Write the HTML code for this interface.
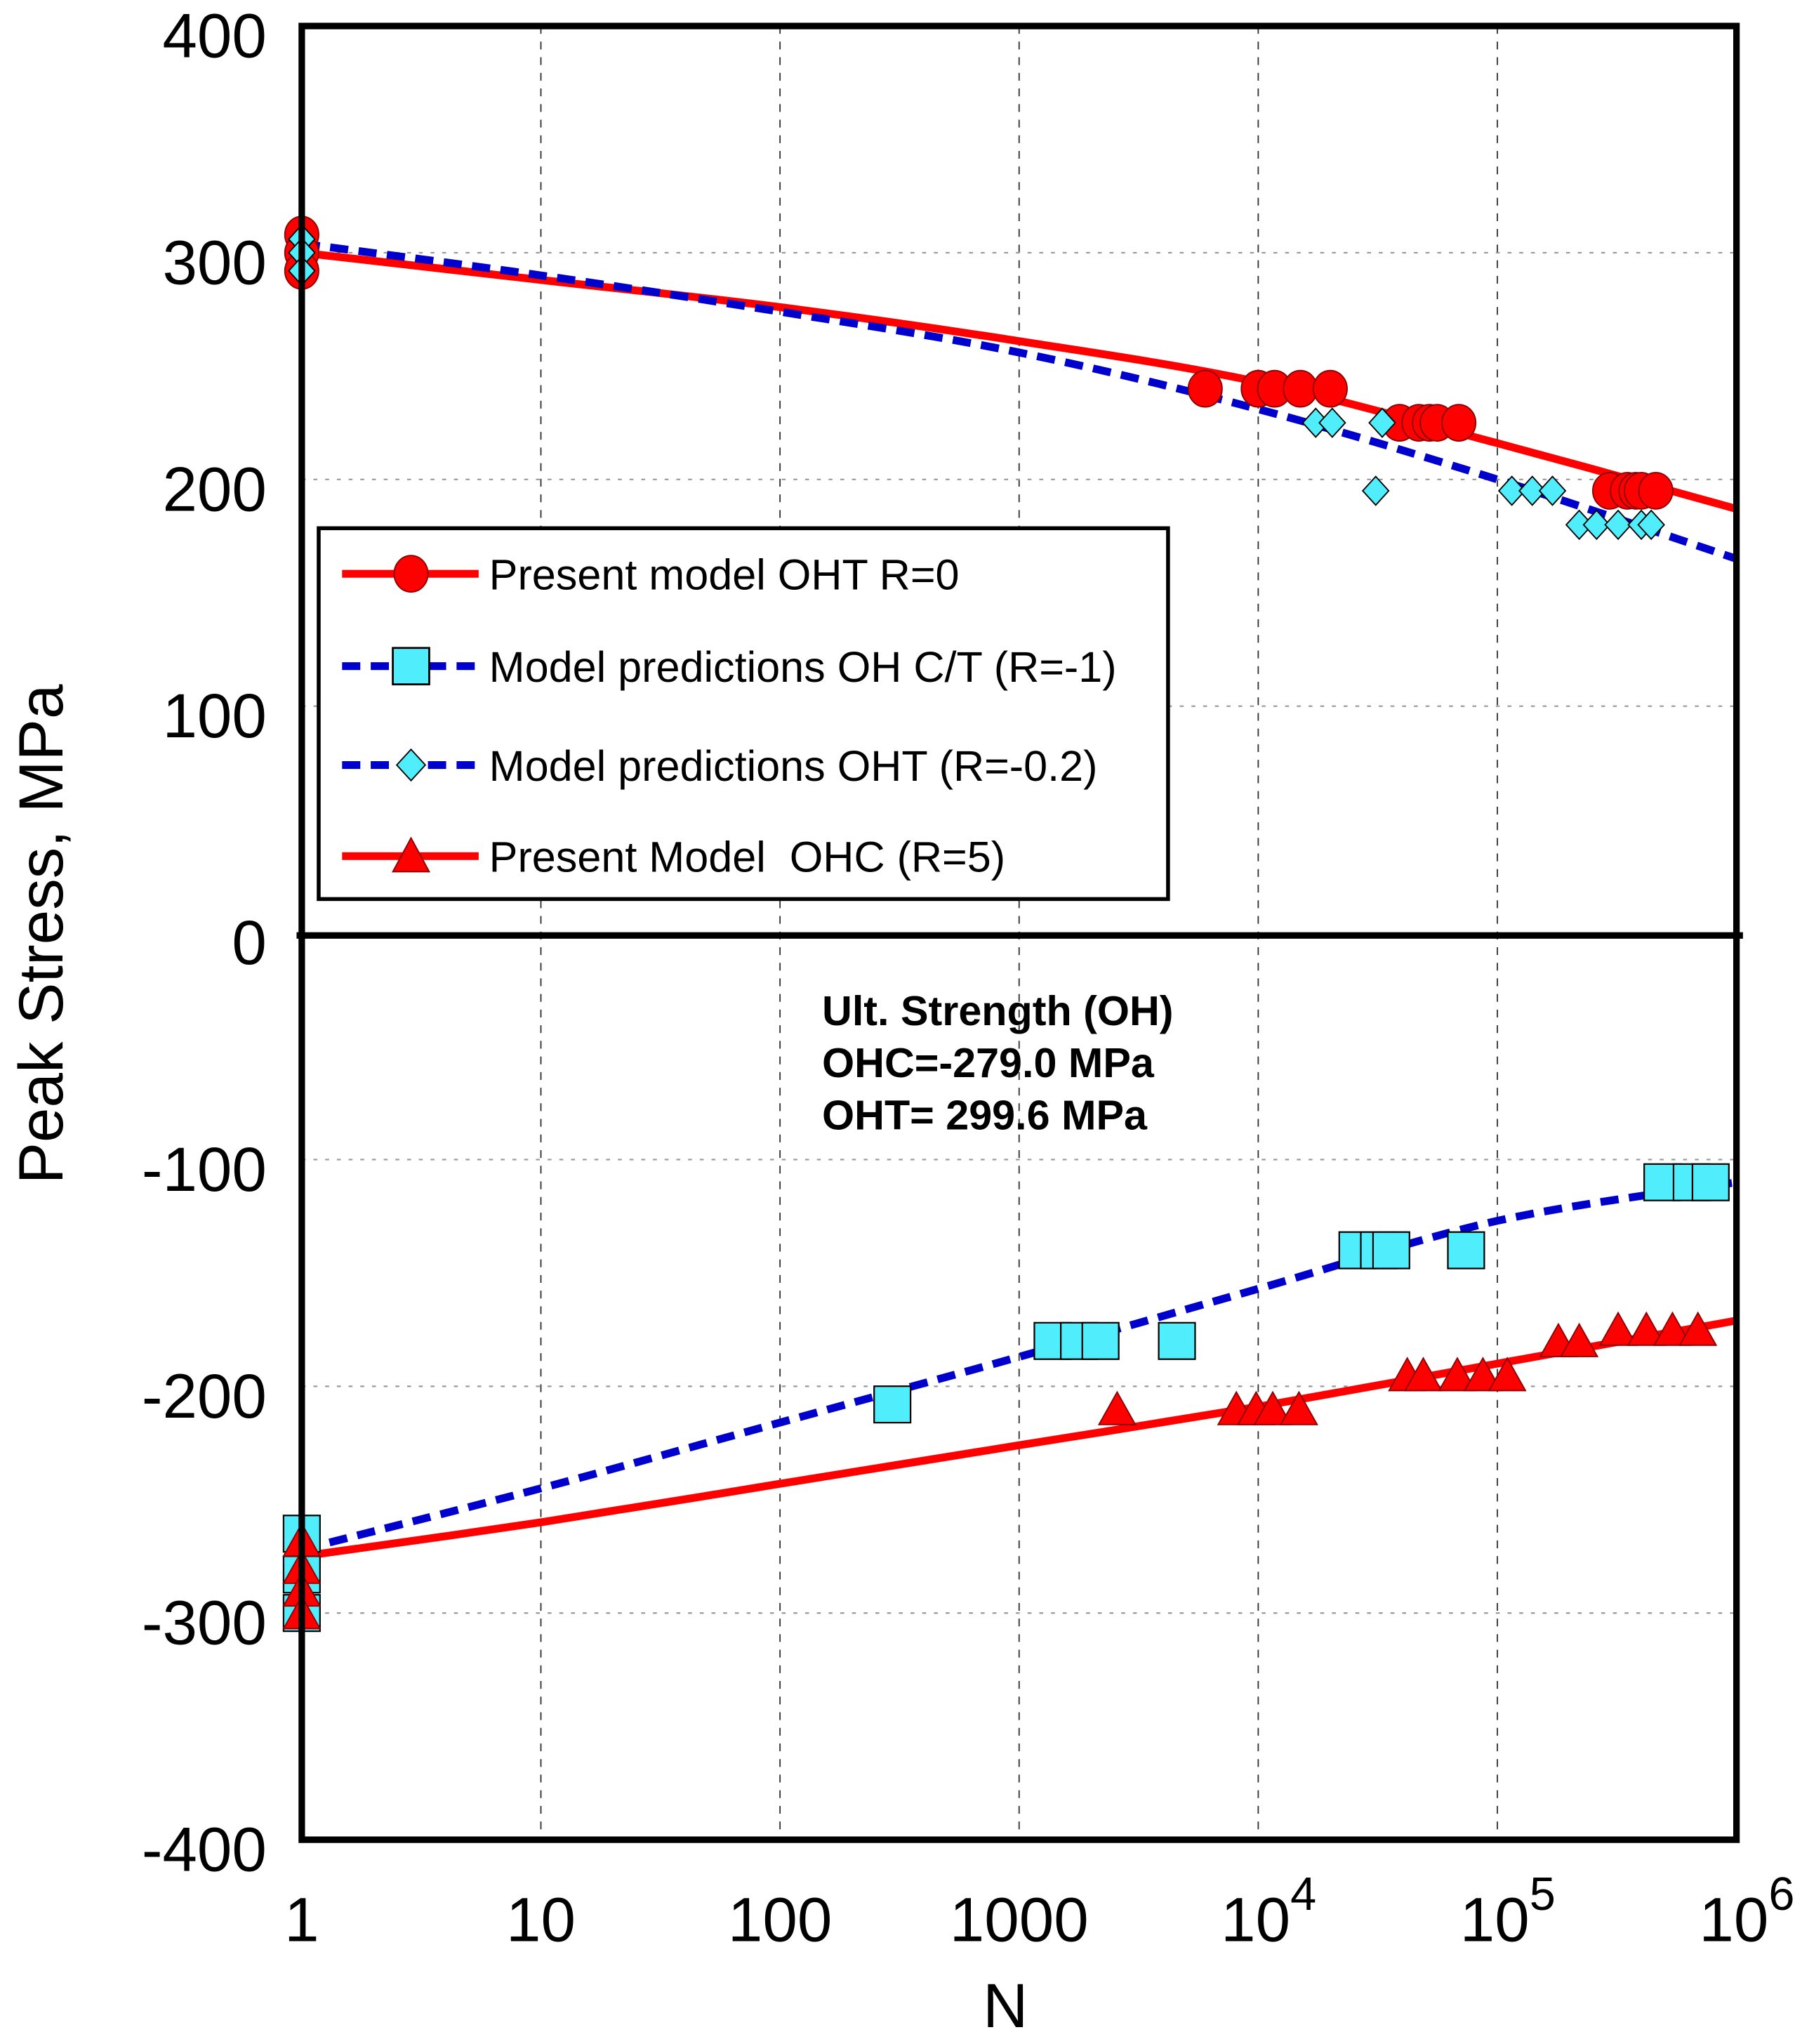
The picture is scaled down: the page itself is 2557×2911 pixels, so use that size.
<!DOCTYPE html>
<html><head><meta charset="utf-8"><style>
html,body{margin:0;padding:0;background:#fff;}
svg{display:block;}
text{font-family:"Liberation Sans",sans-serif;}
</style></head><body>
<svg id="chart" width="2557" height="2911" viewBox="0 0 1380 1571" preserveAspectRatio="none" xmlns="http://www.w3.org/2000/svg">
<g id="grid"></g>
<g id="lines"></g>
<g id="marks"></g>
<rect x="232" y="20" width="1103" height="1394" fill="none" stroke="#000" stroke-width="5"/>
<g id="axes"></g>
<g>
<rect x="245" y="406" width="653" height="285" fill="#fff" stroke="#000" stroke-width="3"/>
<g>
<line x1="263" y1="441" x2="368" y2="441" stroke="#ff0000" stroke-width="6"/>
<ellipse cx="316" cy="441" rx="13" ry="14" fill="#ff0000" stroke="#800" stroke-width="1"/>
<text x="376" y="453" font-size="33">Present model OHT R=0</text></g>
<g>
<line x1="263" y1="512" x2="368" y2="512" stroke="#0000cc" stroke-width="6" stroke-dasharray="14,8"/>
<rect x="302" y="498" width="28" height="28" fill="#50eefc" stroke="#000" stroke-width="1.5"/>
<text x="376" y="524" font-size="33">Model predictions OH C/T (R=-1)</text></g>
<g>
<line x1="263" y1="588" x2="368" y2="588" stroke="#0000cc" stroke-width="6" stroke-dasharray="14,8"/>
<polygon points="316,576 327,588 316,600 305,588" fill="#50eefc" stroke="#000" stroke-width="1"/>
<text x="376" y="600" font-size="33">Model predictions OHT (R=-0.2)</text></g>
<g>
<line x1="263" y1="658" x2="368" y2="658" stroke="#ff0000" stroke-width="6"/>
<polygon points="316,644 330,670 302,670" fill="#ff0000" stroke="#800" stroke-width="1"/>
<text x="376" y="670" font-size="33" xml:space="preserve">Present Model  OHC (R=5)</text></g>
</g>
<g font-weight="bold" font-size="32">
<text x="632" y="788">Ult. Strength (OH)</text>
<text x="632" y="828">OHC=-279.0 MPa</text>
<text x="632" y="868">OHT= 299.6 MPa</text>
</g>
<text x="773" y="1558" font-size="48" text-anchor="middle">N</text>
<text x="0" y="0" font-size="48" text-anchor="middle" transform="translate(48,718) rotate(-90)">Peak Stress, MPa</text>
</svg>
<script>
const xTicks = [0,1,2,3,4,5,6];
const xTickLabels = ["1","10","100","1000","10^4","10^5","10^6"];
const yTicks = [400,300,200,100,0,-100,-200,-300,-400];
const lineN = [1,10,100,1000,1e4,1e5,1e6];
const ohtR0Line = [300,288,276,261,243,216,187];
const ohtR02Line = [304,290,274,256,231,200,165];
const ohctLine = [-272,-245,-216,-187,-157,-127,-110];
const ohcLine = [-275,-260,-243,-226,-209,-190,-171];
const circN = [1,1,1,6000,1e4,1.17e4,1.5e4,2e4,3.9e4,4.7e4,5.2e4,5.6e4,6.9e4,2.95e5,3.5e5,3.8e5,4e5,4.6e5];
const circS = [308,300,292,240,240,240,240,240,225,225,225,225,225,195,195,195,195,195];
const diaN = [1,1,1,1.74e4,2.04e4,3.3e4,3.1e4,1.15e5,1.4e5,1.7e5,2.2e5,2.6e5,3.2e5,4e5,4.4e5];
const diaS = [306,300,292,225,225,225,195,195,195,195,180,180,180,180,180];
const sqN = [1,1,1,295,1380,1780,2190,4570,2.6e4,3.2e4,3.6e4,7.4e4,4.9e5,6.5e5,7.8e5];
const sqS = [-265,-283,-300,-208,-180,-180,-180,-180,-140,-140,-140,-140,-110,-110,-110];
const triN = [1,1,1,1,2570,8100,9800,1.15e4,1.48e4,4.2e4,4.9e4,6.8e4,8.7e4,1.1e5,1.8e5,2.2e5,3.2e5,4.2e5,5.4e5,6.9e5];
const triS = [-268,-280,-290,-300,-210,-210,-210,-210,-210,-195,-195,-195,-195,-195,-180,-180,-175,-175,-175,-175];

const NS='http://www.w3.org/2000/svg';
const X0=232,X1=1335,Y0=20,Y1=1414;
function xs(n){return X0+(Math.log10(n)/6)*(X1-X0);}
function xl(l){return X0+(l/6)*(X1-X0);}
function ys(v){return Y0+(400-v)/800*(Y1-Y0);}
function mk(tag,attrs,parent){const e=document.createElementNS(NS,tag);for(const k in attrs)e.setAttribute(k,attrs[k]);parent.appendChild(e);return e;}
const grid=document.getElementById('grid'),axes=document.getElementById('axes'),lines=document.getElementById('lines'),marks=document.getElementById('marks');
xTicks.forEach((t,i)=>{
  if(i>0&&i<6){const g=mk('line',{x1:xl(t),x2:xl(t),y1:Y0,y2:Y1,stroke:'#333','stroke-width':1,'stroke-dasharray':'6,6'},grid);
  
  }
  const lab=xTickLabels[i];
  const tx=mk('text',{x:xl(t),y:1492,'font-size':48,'text-anchor':'middle'},axes);
  
  
  if(lab.indexOf('^')>0){const p=lab.split('^');tx.textContent=p[0];const s=mk('tspan',{dy:-24,'font-size':36},tx);s.textContent=p[1];tx.setAttribute('x',xl(t)+8);}
  else tx.textContent=lab;
});
yTicks.forEach(v=>{
  if(v<400&&v>-400&&v!==0){const g=mk('line',{x1:X0,x2:X1,y1:ys(v),y2:ys(v),stroke:'#999','stroke-width':1.2,'stroke-dasharray':'3,6'},grid);
  
  }
  const t=mk('text',{x:205,y:ys(v)+24,'font-size':48,'text-anchor':'end'},axes);
  
  
  t.textContent=String(v);
});
const zl=mk('line',{x1:228,x2:1340,y1:ys(0)+2,y2:ys(0)+2,stroke:'#000','stroke-width':5},axes);


function drawLine(vals,color,dash,name){
  const P=lineN.map((n,i)=>[xs(n),ys(vals[i])]);
  let d='M'+P[0][0]+','+P[0][1];
  for(let i=0;i<P.length-1;i++){
    const p0=P[i-1]||P[i],p1=P[i],p2=P[i+1],p3=P[i+2]||P[i+1];
    const c1=[p1[0]+(p2[0]-p0[0])/6,p1[1]+(p2[1]-p0[1])/6];
    const c2=[p2[0]-(p3[0]-p1[0])/6,p2[1]-(p3[1]-p1[1])/6];
    d+=` C${c1[0]},${c1[1]} ${c2[0]},${c2[1]} ${p2[0]},${p2[1]}`;
  }
  const p=mk('path',{d:d,fill:'none',stroke:color,'stroke-width':6},lines);
  if(dash)p.setAttribute('stroke-dasharray','14,8');
  
  
}
drawLine(ohtR0Line,'#ff0000',false,'line-oht-r0');
drawLine(ohcLine,'#ff0000',false,'line-ohc-r5');
drawLine(ohtR02Line,'#0000cc',true,'line-oht-r-0.2');
drawLine(ohctLine,'#0000cc',true,'line-ohct-r-1');
circN.forEach((n,i)=>{const e=mk('ellipse',{cx:xs(n),cy:ys(circS[i]),rx:13,ry:14,fill:'#ff0000',stroke:'#800','stroke-width':1},marks);
  
  });
diaN.forEach((n,i)=>{const x=xs(n),y=ys(diaS[i]);const e=mk('polygon',{points:`${x},${y-11} ${x+10},${y} ${x},${y+11} ${x-10},${y}`,fill:'#50eefc',stroke:'#000','stroke-width':1},marks);
  
  });
sqN.forEach((n,i)=>{const e=mk('rect',{x:xs(n)-14,y:ys(sqS[i])-14,width:28,height:28,fill:'#50eefc',stroke:'#000','stroke-width':1.2},marks);
  
  });
triN.forEach((n,i)=>{const x=xs(n),y=ys(triS[i]);const e=mk('polygon',{points:`${x},${y-13} ${x+14},${y+12} ${x-14},${y+12}`,fill:'#ff0000',stroke:'#800','stroke-width':1},marks);
  
  });
</script>
</body></html>
